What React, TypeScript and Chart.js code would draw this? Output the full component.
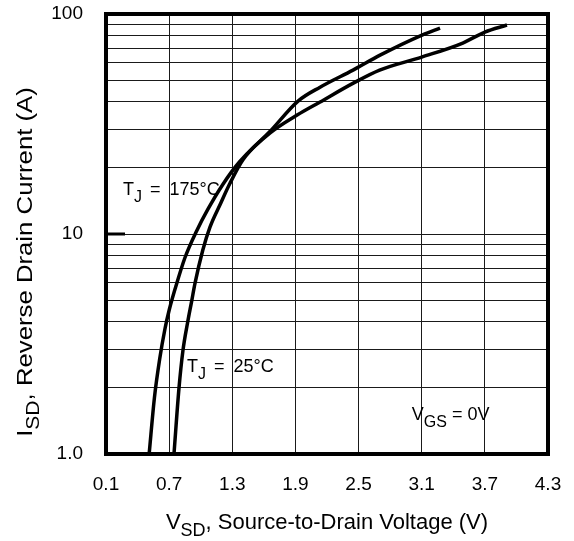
import React, { useEffect, useRef } from "react";
import { Chart, registerables } from "chart.js";
Chart.register(...registerables);

const FONT = '"Liberation Sans", Arial, Helvetica, sans-serif';

const xTicks = [0.1, 0.7, 1.3, 1.9, 2.5, 3.1, 3.7, 4.3];
const yTicks = [1, 2, 3, 4, 5, 6, 7, 8, 9, 10, 20, 30, 40, 50, 60, 70, 80, 90, 100];
const yTickLabels: Record<number, string> = { 1: "1.0", 10: "10", 100: "100" };

// T_J = 175°C
const v175 = [0.51, 0.56, 0.61, 0.66, 0.70, 0.76, 0.85, 0.96, 1.07, 1.21, 1.37, 1.66, 1.92, 2.13, 2.45, 2.70, 3.10, 3.49, 3.70, 3.91];
const i175 = [1.0, 1.8, 2.7, 3.7, 4.5, 5.7, 7.8, 10.3, 13.0, 16.8, 21.3, 28.8, 34.8, 39.7, 48.5, 55.6, 63.7, 73.8, 82.8, 89.1];
// T_J = 25°C
const v25 = [0.746, 0.793, 0.831, 0.875, 0.915, 0.945, 1.02, 1.088, 1.19, 1.278, 1.40, 1.66, 1.925, 2.134, 2.447, 2.704, 3.103, 3.274];
const i25 = [1.0, 1.98, 2.95, 3.95, 4.98, 5.95, 8.46, 10.75, 13.8, 17.0, 21.7, 29.3, 40.2, 46.5, 55.6, 65.0, 80.2, 86.3];

type Part = { t: string; sub?: boolean; gap?: number };

function partsWidth(ctx: CanvasRenderingContext2D, parts: Part[], size: number, subSize: number) {
  let w = 0;
  for (const p of parts) {
    ctx.font = `${p.sub ? subSize : size}px ${FONT}`;
    w += (p.gap || 0) + ctx.measureText(p.t).width;
  }
  return w;
}

function drawParts(ctx: CanvasRenderingContext2D, parts: Part[], x: number, y: number, size: number, subSize: number, subDy: number) {
  let cx = x;
  ctx.textAlign = "left";
  ctx.textBaseline = "alphabetic";
  for (const p of parts) {
    cx += p.gap || 0;
    ctx.font = `${p.sub ? subSize : size}px ${FONT}`;
    ctx.fillText(p.t, cx, y + (p.sub ? subDy : 0));
    cx += ctx.measureText(p.t).width;
  }
}

const annotPlugin = {
  id: "annot",
  afterDraw(chart: any) {
    const { ctx, chartArea: a, scales } = chart;
    const xs = scales.x;
    const ys = scales.y;
    ctx.save();
    ctx.fillStyle = "#000";
    ctx.strokeStyle = "#000";
    // frame
    ctx.lineWidth = 4;
    ctx.strokeRect(a.left, a.top, a.right - a.left, a.bottom - a.top);
    // short heavy tick at 10
    const y10 = ys.getPixelForValue(10);
    ctx.lineWidth = 3;
    ctx.beginPath();
    ctx.moveTo(a.left, y10);
    ctx.lineTo(a.left + 19, y10);
    ctx.stroke();

    // curve labels
    drawParts(ctx, [{ t: "T" }, { t: "J", sub: true }, { t: "=", gap: 8 }, { t: "175°C", gap: 9 }],
      xs.getPixelForValue(0.262), ys.getPixelForValue(15.0), 18, 16, 7);
    drawParts(ctx, [{ t: "T" }, { t: "J", sub: true }, { t: "=", gap: 8 }, { t: "25°C", gap: 9 }],
      xs.getPixelForValue(0.869), ys.getPixelForValue(2.36), 18, 16, 7);
    drawParts(ctx, [{ t: "V" }, { t: "GS", sub: true }, { t: "=", gap: 5 }, { t: "0V", gap: 5 }],
      xs.getPixelForValue(3.006), ys.getPixelForValue(1.427), 18, 16, 7);

    // x title
    const xParts: Part[] = [{ t: "V" }, { t: "SD", sub: true }, { t: ", Source-to-Drain Voltage (V)" }];
    const xw = partsWidth(ctx, xParts, 22, 18);
    drawParts(ctx, xParts, (a.left + a.right) / 2 - xw / 2, 529, 22, 18, 7);

    // y title (stretched along its length, as in the reference)
    const yParts: Part[] = [{ t: "I" }, { t: "SD", sub: true }, { t: ", Reverse Drain Current (A)" }];
    const yw = partsWidth(ctx, yParts, 22, 18);
    const stretch = 1.17;
    ctx.translate(32, 262);
    ctx.rotate(-Math.PI / 2);
    ctx.scale(stretch, 1);
    drawParts(ctx, yParts, -yw / 2, 0, 22, 18, 7);
    ctx.restore();
  },
};

export default function App() {
  const ref = useRef<HTMLCanvasElement>(null);
  useEffect(() => {
    if (!ref.current) return;
    const chart = new Chart(ref.current, {
      type: "line",
      data: {
        datasets: [
          {
            label: "TJ = 175°C",
            data: v175.map((v, i) => ({ x: v, y: i175[i] })),
            borderColor: "#000",
            borderWidth: 3.5,
            pointRadius: 0,
            cubicInterpolationMode: "monotone",
            fill: false,
          },
          {
            label: "TJ = 25°C",
            data: v25.map((v, i) => ({ x: v, y: i25[i] })),
            borderColor: "#000",
            borderWidth: 3.5,
            pointRadius: 0,
            cubicInterpolationMode: "monotone",
            fill: false,
          },
        ],
      },
      options: {
        responsive: false,
        animation: false,
        layout: { padding: { top: 14, right: 26, left: 0, bottom: 0 } },
        plugins: { legend: { display: false }, tooltip: { enabled: false }, title: { display: false } },
        scales: {
          x: {
            type: "linear",
            min: 0.1,
            max: 4.3,
            afterBuildTicks: (s: any) => { s.ticks = xTicks.map((v) => ({ value: v })); },
            afterFit: (s: any) => { s.height = 87; s.paddingLeft = 0; s.paddingRight = 0; },
            ticks: {
              callback: (v: any) => Number(v).toFixed(1),
              font: { family: FONT, size: 19 },
              color: "#000",
              padding: 19,
              maxRotation: 0,
              autoSkip: false,
            },
            grid: { color: "#1a1a1a", lineWidth: 1, drawTicks: false },
            border: { display: false },
          },
          y: {
            type: "logarithmic",
            min: 1,
            max: 100,
            afterBuildTicks: (s: any) => { s.ticks = yTicks.map((v) => ({ value: v })); },
            afterFit: (s: any) => { s.width = 106; s.paddingTop = 0; s.paddingBottom = 0; },
            ticks: {
              callback: (v: any) => yTickLabels[Number(v)] ?? "",
              font: { family: FONT, size: 19 },
              color: "#000",
              padding: 23,
              autoSkip: false,
            },
            grid: { color: "#1a1a1a", lineWidth: 1, drawTicks: false },
            border: { display: false },
          },
        },
      },
      plugins: [annotPlugin],
    } as any);
    return () => chart.destroy();
  }, []);
  return (
    <div style={{ position: "absolute", left: 0, top: 0, width: 574, height: 541, background: "#fff" }}>
      <canvas ref={ref} width={574} height={541} style={{ width: 574, height: 541 }} />
    </div>
  );
}
